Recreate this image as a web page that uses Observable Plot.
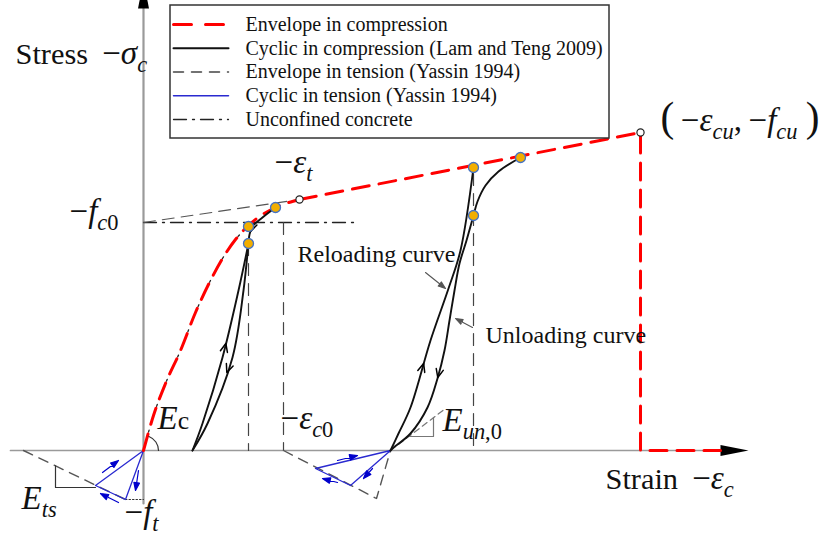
<!DOCTYPE html>
<html><head><meta charset="utf-8">
<script src="https://cdn.jsdelivr.net/npm/d3@7"></script>
<script src="https://cdn.jsdelivr.net/npm/@observablehq/plot@0.6"></script>
<style>html,body{margin:0;padding:0;background:#fff;overflow:hidden}#chart svg{display:block}text{white-space:pre}</style>
</head><body><div id="chart"></div>
<script>
// ---- normalized strain (x) / stress (y) values read from the schematic ----
// Envelope in compression
const envCurveStrain = [0, 0.10, 0.22, 0.37, 0.52, 0.67, 0.79, 0.92, 1.05, 1.19, 1.32, 1.56];
const envCurveStress = [0, 0.35, 0.67, 1.00, 1.38, 1.70, 1.92, 2.11, 2.25, 2.36, 2.43, 2.51];
const envLinStrain = [1.56, 4.97, 4.97, 5.77];
const envLinStress = [2.51, 3.18, 0, 0];
// Unconfined concrete
const uncStrain = [0, 0.10, 0.22, 0.37, 0.52, 0.67, 0.79, 0.92, 1.05, 1.12];
const uncStress = [0, 0.35, 0.67, 1.00, 1.38, 1.70, 1.92, 2.11, 2.24, 2.28];
const fc0Strain = [0, 2.15];
const fc0Stress = [2.28, 2.28];
const tangentStrain = [0, 1.56];
const tangentStress = [2.28, 2.51];
// Cyclic in compression
const unload1Strain = [1.32, 1.19, 1.09, 1.06, 1.05, 1.00, 0.89, 0.64, 0.49];
const unload1Stress = [2.43, 2.33, 2.24, 2.16, 2.07, 1.60, 0.93, 0.27, 0];
const reload1Strain = [0.49, 0.59, 0.79, 0.95, 1.05];
const reload1Stress = [0, 0.27, 0.93, 1.60, 2.07];
const reload2Strain = [2.47, 2.55, 2.67, 2.87, 3.05, 3.17, 3.30];
const reload2Stress = [0, 0.17, 0.43, 1.10, 1.62, 2.00, 2.83];
const unload2Strain = [3.77, 3.55, 3.42, 3.34, 3.30, 3.23, 3.16, 3.11, 3.06, 3.01, 2.94, 2.84, 2.67, 2.49, 2.47];
const unload2Stress = [2.93, 2.79, 2.65, 2.49, 2.35, 2.10, 1.87, 1.60, 1.30, 1.00, 0.72, 0.43, 0.17, 0.02, 0];
// Envelope / cyclic in tension
const tensEnv1Strain = [-1.20, -0.18];
const tensEnv1Stress = [0, -0.49];
const tensCyc1Strain = [0, -0.18, -0.48, 0];
const tensCyc1Stress = [0, -0.49, -0.35, 0];
const ftStrain = [-0.18, 0];
const ftStress = [-0.49, -0.49];
const tensEnv2Strain = [1.40, 2.33, 2.47];
const tensEnv2Stress = [0, -0.48, 0];
const tensCyc2Strain = [2.47, 1.72, 2.07, 2.47];
const tensCyc2Stress = [0, -0.18, -0.35, 0];
// slope triangles
const etsStrain = [-0.88, -0.88, -0.48];
const etsStress = [-0.154, -0.37, -0.37];
const eunStrain = [2.65, 2.90, 2.90];
const eunStress = [0.14, 0.14, 0.33];
const eunSlopeStrain = [2.47, 3.02];
const eunSlopeStress = [0, 0.42];
// key points
const keyStrain = [1.05, 1.05, 1.32, 3.30, 3.77, 3.30];
const keyStress = [2.24, 2.07, 2.43, 2.83, 2.93, 2.35];
const openStrain = [1.56, 4.97];
const openStress = [2.51, 3.18];
const dropStrain = [1.05, 1.40, 3.30];
const dropTop = [2.07, 2.28, 2.77];
// axes
const axisStrainRange = [-1.33, 6.05];
const axisStressRange = [-0.53, 4.70];
// arrows in tension (tail -> tip)
const tArrowTailStrain = [-0.41, -0.05, -0.25, 1.94, 2.29, 1.94];
const tArrowTailStress = [-0.22, -0.20, -0.52, -0.10, -0.18, -0.32];
const tArrowTipStrain = [-0.25, -0.08, -0.43, 2.14, 2.20, 1.79];
const tArrowTipStress = [-0.10, -0.40, -0.43, -0.05, -0.28, -0.28];
// pointers for curve notes
const pTailStrain = [2.82, 3.29];
const pTailStress = [1.78, 1.23];
const pTipStrain = [3.02, 3.12];
const pTipStress = [1.62, 1.32];
// direction arrows on loops
const loopArrowCurve = ["reload1", "unload1", "unload1", "reload2", "unload2"];
const loopArrowStress = [1.07, 0.78, 2.19, 0.87, 0.73];
// text
const legendLabels = ["Envelope in compression", "Cyclic in compression (Lam and Teng 2009)", "Envelope in tension (Yassin 1994)", "Cyclic in tension (Yassin 1994)", "Unconfined concrete"];
const labelText = [
  "§w:Stress |n:\u2009−|i:σ|s:c",
  "§n:−|i:f|s:c|u:0",
  "§n:−|i:ε|s:t",
  "§b:(|n:\u2009−|i:ε|s:cu|n:,\u2009−|i:f|s:cu|b:\u2009)",
  "§i:E|m:c",
  "§n:−|i:ε|s:c|u:0",
  "§i:E|s:un|u:,0",
  "§w:Strain |n:\u2009−|i:ε|s:c",
  "§i:E|s:ts",
  "§n:−|i:f|s:t"
];
const labelStrain = [-1.28, -0.74, 1.31, 5.17, 0.14, 1.37, 2.99, 4.62, -1.22, -0.19];
const labelStress = [3.87, 2.29, 2.78, 3.20, 0.22, 0.22, 0.20, -0.38, -0.58, -0.72];
const noteText = ["Reloading curve", "Unloading curve"];
const noteStrain = [1.54, 3.42];
const noteStress = [1.89, 1.08];

// ---- layout ----
const W = 827, H = 536;
const X_DOMAIN = [-1.43, 6.84], Y_DOMAIN = [-0.86, 4.50];
const PX = W / (X_DOMAIN[1] - X_DOMAIN[0]), PY = H / (Y_DOMAIN[1] - Y_DOMAIN[0]);
const pts = (xs, ys) => xs.map((x, i) => ({x, y: ys[i]}));
const curves = {
  reload1: [reload1Strain, reload1Stress], unload1: [unload1Strain, unload1Stress],
  reload2: [reload2Strain, reload2Stress], unload2: [unload2Strain, unload2Stress]
};
function onCurve(name, yv) {
  const [xs, ys] = curves[name];
  for (let i = 0; i < xs.length - 1; i++) {
    const a = ys[i], b = ys[i + 1];
    if ((yv - a) * (yv - b) <= 0 && a !== b) {
      const t = (yv - a) / (b - a), dx = xs[i + 1] - xs[i], dy = b - a;
      return {x: xs[i] + t * dx, y: yv, rot: Math.atan2(dx * PX, dy * PY) * 180 / Math.PI};
    }
  }
}
function arrowRows(tx, ty, hx, hy) {
  return tx.map((_, i) => {
    const dx = (hx[i] - tx[i]) * PX, dy = (hy[i] - ty[i]) * PY;
    return {x: hx[i], y: hy[i], len: Math.hypot(dx, dy), rot: Math.atan2(dx, dy) * 180 / Math.PI};
  });
}
const harpoon = {draw(c, l, r) { c.moveTo(0, 0); c.lineTo(0, -l); c.moveTo(0, -l); c.lineTo(-r, -l + 2.8 * r); c.lineTo(r, -l + 2.8 * r); c.closePath(); }};
const headShape = {draw(c, l, r) { c.moveTo(0, -l); c.lineTo(-r, 0); c.lineTo(r, 0); c.closePath(); }};
const chevron = {draw(c, l, r) { c.moveTo(-r, 2.3 * r); c.lineTo(0, 0); c.lineTo(r, 2.3 * r); }};
const arcShape = {draw(c, l, r) { c.moveTo(r, 0); c.arc(0, 0, r, 0, -1.2, true); }};

const legendStyles = [
  {stroke: "#ff0000", strokeWidth: 3, strokeDasharray: "18,14"},
  {stroke: "#111", strokeWidth: 2},
  {stroke: "#444", strokeWidth: 1.5, strokeDasharray: "10,8"},
  {stroke: "#2a2ad0", strokeWidth: 1.5},
  {stroke: "#222", strokeWidth: 1.3, strokeDasharray: "13,6,2,6"}
];
const legX = [0.30, 0.85], legTextX = 1.02, legTop = 4.26, legStep = 0.2375;
const legendMarks = legendStyles.map((s, i) =>
  Plot.line(pts(legX, [legTop - i * legStep, legTop - i * legStep]), {x: "x", y: "y", ...s}));

const serif = "'Liberation Serif', 'Times New Roman', serif";
const plot = Plot.plot({
  width: W, height: H, margin: 0,
  x: {domain: X_DOMAIN, axis: null},
  y: {domain: Y_DOMAIN, axis: null},
  length: {type: "identity"},
  style: {fontFamily: serif, background: "#fff", color: "#000"},
  marks: [
    // axes
    Plot.line(pts(axisStrainRange.map((v, i) => i ? v - 0.26 : v), [0, 0]), {x: "x", y: "y", stroke: "#9a9a9a", strokeWidth: 1.7}),
    Plot.line(pts([0, 0], axisStressRange.map((v, i) => i ? v - 0.26 : v)), {x: "x", y: "y", stroke: "#9a9a9a", strokeWidth: 2.2}),
    Plot.vector([{x: axisStrainRange[1], y: 0, rot: 90}, {x: 0, y: axisStressRange[1], rot: 0}],
      {x: "x", y: "y", rotate: "rot", length: 28, anchor: "end", shape: headShape, r: 5.5, fill: "#000", stroke: "none"}),
    // reference lines
    Plot.line(pts(fc0Strain, fc0Stress), {x: "x", y: "y", stroke: "#222", strokeWidth: 1.3, strokeDasharray: "13,6,2,6"}),
    Plot.line(pts(tangentStrain, tangentStress), {x: "x", y: "y", stroke: "#555", strokeWidth: 1.1, strokeDasharray: "12,7"}),
    ...dropStrain.map((s, i) => Plot.line(pts([s, s], [dropTop[i], 0]), {x: "x", y: "y", stroke: "#444", strokeWidth: 1.2, strokeDasharray: "12,8"})),
    // tension
    Plot.line(pts(tensEnv1Strain, tensEnv1Stress), {x: "x", y: "y", stroke: "#555", strokeWidth: 1.4, strokeDasharray: "10,7"}),
    Plot.line(pts(tensEnv2Strain, tensEnv2Stress), {x: "x", y: "y", stroke: "#555", strokeWidth: 1.4, strokeDasharray: "10,7"}),
    Plot.line(pts(ftStrain, ftStress), {x: "x", y: "y", stroke: "#333", strokeWidth: 1, strokeDasharray: "1.5,2"}),
    Plot.line(pts(etsStrain, etsStress), {x: "x", y: "y", stroke: "#333", strokeWidth: 1.2}),
    Plot.line(pts(tensCyc1Strain, tensCyc1Stress), {x: "x", y: "y", stroke: "#2a2ad0", strokeWidth: 1.3}),
    Plot.line(pts(tensCyc2Strain, tensCyc2Stress), {x: "x", y: "y", stroke: "#2a2ad0", strokeWidth: 1.3}),
    Plot.vector(arrowRows(tArrowTailStrain, tArrowTailStress, tArrowTipStrain, tArrowTipStress),
      {x: "x", y: "y", length: "len", rotate: "rot", anchor: "end", shape: harpoon, r: 2.8, stroke: "#0000cc", fill: "#0000cc", strokeWidth: 1.2}),
    // E_un,0
    Plot.line(pts(eunSlopeStrain, eunSlopeStress), {x: "x", y: "y", stroke: "#777", strokeWidth: 1.2, strokeDasharray: "6,4"}),
    Plot.line(pts(eunStrain, eunStress), {x: "x", y: "y", stroke: "#777", strokeWidth: 1.2}),
    // unconfined + envelope
    Plot.line(pts(uncStrain, uncStress), {x: "x", y: "y", curve: "monotone-x", stroke: "#222", strokeWidth: 1.3, strokeDasharray: "13,6,2,6"}),
    Plot.line(pts(envCurveStrain, envCurveStress), {x: "x", y: "y", curve: "monotone-x", stroke: "#ff0000", strokeWidth: 3, strokeDasharray: "17,10"}),
    Plot.line(pts(envLinStrain, envLinStress), {x: "x", y: "y", stroke: "#ff0000", strokeWidth: 3, strokeDasharray: "17,10"}),
    // cyclic compression
    ...Object.values(curves).map(([xs, ys]) => Plot.line(pts(xs, ys), {x: "x", y: "y", curve: "catmull-rom", stroke: "#111", strokeWidth: 1.9})),
    Plot.vector(loopArrowCurve.map((c, i) => onCurve(c, loopArrowStress[i])),
      {x: "x", y: "y", rotate: "rot", length: 1, anchor: "start", shape: chevron, r: 3.6, stroke: "#000", fill: "none", strokeWidth: 1.5}),
    // E_c arc
    Plot.vector([{x: 0, y: 0}], {x: "x", y: "y", length: 1, anchor: "start", shape: arcShape, r: 15, stroke: "#333", fill: "none", strokeWidth: 1.2}),
    // points
    Plot.dot(pts(keyStrain, keyStress), {x: "x", y: "y", r: 5, fill: "#f2ae00", stroke: "#4472c4", strokeWidth: 1.3}),
    Plot.dot(pts(openStrain, openStress), {x: "x", y: "y", r: 3.6, fill: "#fff", stroke: "#222", strokeWidth: 1.2}),
    // pointers
    Plot.vector(arrowRows(pTailStrain, pTailStress, pTipStrain, pTipStress),
      {x: "x", y: "y", length: "len", rotate: "rot", anchor: "end", shape: harpoon, r: 2.6, stroke: "#555", fill: "#555", strokeWidth: 1.1}),
    // legend
    Plot.rect([0], {x1: 0.27, x2: 4.66, y1: 3.12, y2: 4.45, fill: "#fff", stroke: "#333", strokeWidth: 1.5}),
    ...legendMarks,
    Plot.text(legendLabels, {x: legTextX, y: (d, i) => legTop - i * legStep, text: d => d, textAnchor: "start", lineAnchor: "middle", fontSize: 20, fontFamily: serif, fill: "#111"}),
    // labels
    Plot.text(noteText, {x: (d, i) => noteStrain[i], y: (d, i) => noteStress[i], text: d => d, textAnchor: "start", lineAnchor: "bottom", fontSize: 24, fontFamily: serif, fill: "#111"}),
    Plot.text(labelText, {x: (d, i) => labelStrain[i], y: (d, i) => labelStress[i], text: d => d, textAnchor: "start", lineAnchor: "bottom", fontSize: 33, fontFamily: serif, fill: "#111"})
  ]
});
document.getElementById("chart").appendChild(plot);

// simple rich-text: "§k:txt|k:txt" -> tspans (w word, n upright, i italic, s italic subscript, u upright subscript, m smaller upright, b big)
(function richify(svg) {
  const NS = "http://www.w3.org/2000/svg";
  for (const t of svg.querySelectorAll("text")) {
    const s = t.textContent;
    if (!s.startsWith("§")) continue;
    const fs = parseFloat(getComputedStyle(t).fontSize) || 33;
    t.textContent = "";
    let shift = 0;
    for (const seg of s.slice(1).split("|")) {
      const k = seg[0], str = seg.slice(2);
      const sp = document.createElementNS(NS, "tspan");
      let size = fs, target = 0;
      sp.setAttribute("font-style", (k === "i" || k === "s") ? "italic" : "normal");
      if (k === "w") size = fs * 0.92;
      if (k === "s" || k === "u") { size = fs * 0.68; target = fs * 0.25; }
      if (k === "m") size = fs * 0.78;
      if (k === "b") size = fs * 1.25;
      sp.setAttribute("font-size", size);
      if (target !== shift) { sp.setAttribute("dy", target - shift); shift = target; }
      sp.textContent = str;
      t.appendChild(sp);
    }
  }
})(plot);
</script></body></html>
